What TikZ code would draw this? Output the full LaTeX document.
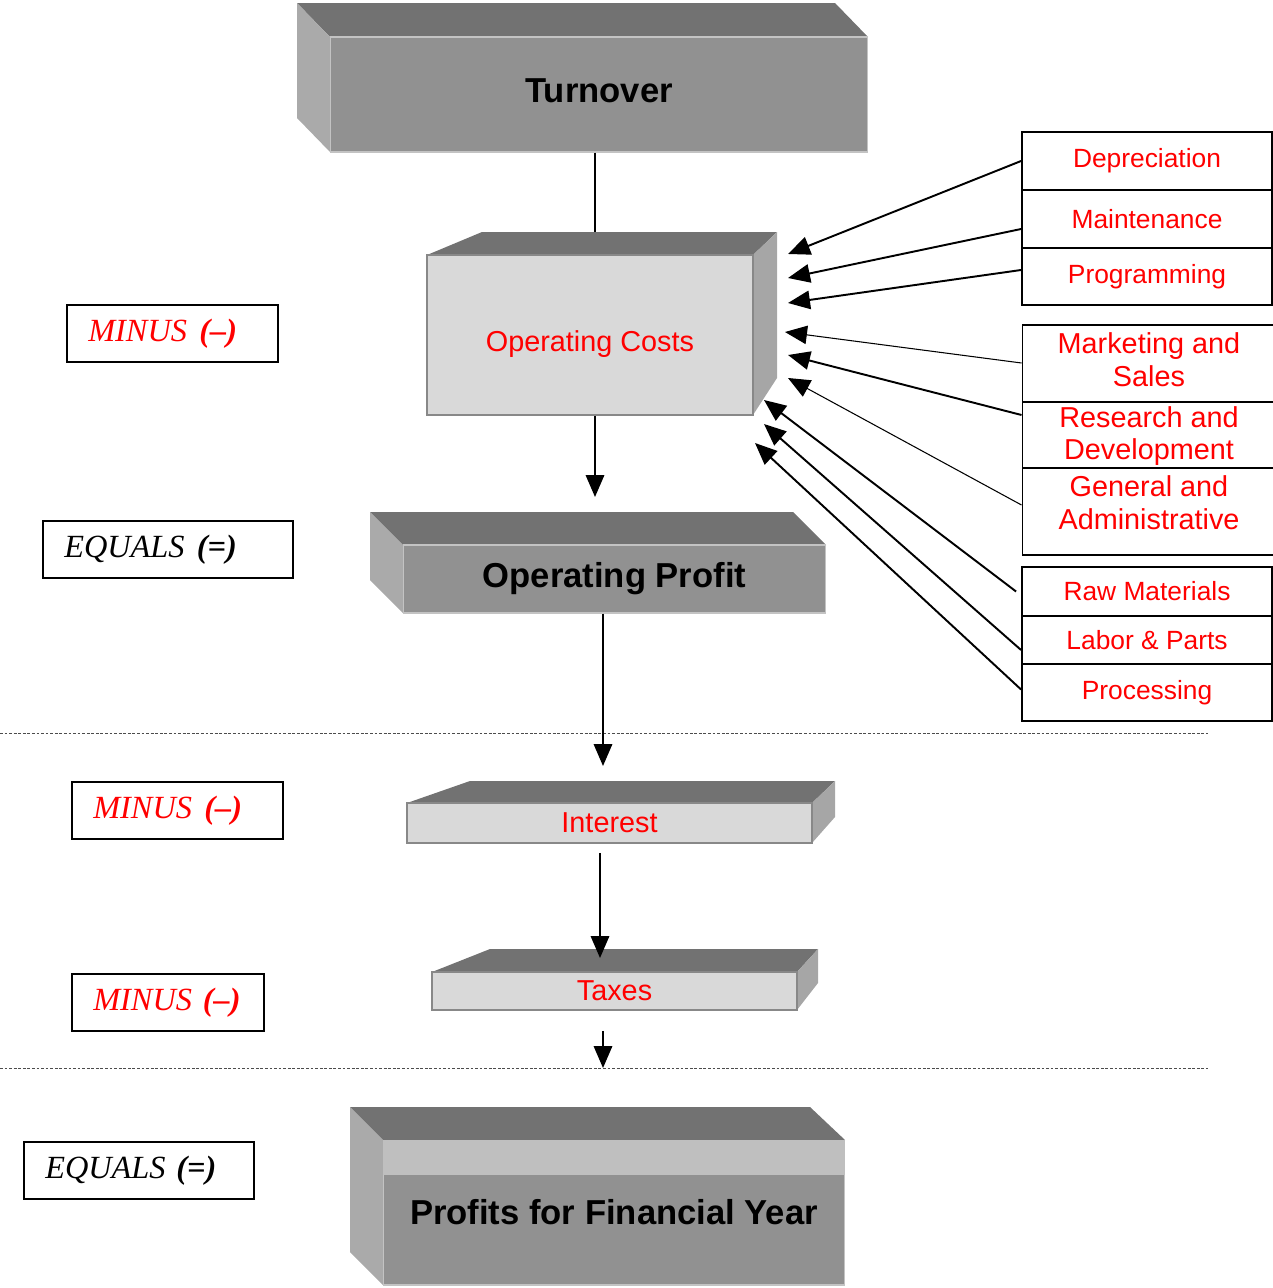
\documentclass[tikz,border=0pt]{standalone}
\usepackage{fontspec}
\setmainfont{Liberation Sans}
\newfontfamily\opfont{Liberation Serif}
\usetikzlibrary{arrows.meta,calc}

\definecolor{topgray}{HTML}{727272}
\definecolor{midgray}{HTML}{919191}
\definecolor{sidegray}{HTML}{AAAAAA}
\definecolor{lightface}{HTML}{D9D9D9}
\definecolor{rightside}{HTML}{A6A6A6}
\definecolor{bandgray}{HTML}{BFBFBF}
\definecolor{edgegray}{HTML}{888888}

\begin{document}
\begin{tikzpicture}[x=0.02cm,y=-0.02cm,
  topface/.style={fill=topgray},
  sideface/.style={fill=sidegray},
  rightface/.style={fill=rightside},
  darkfront/.style={fill=midgray, draw=edgegray!50, line width=0.6pt, inner sep=0pt,
    font=\bfseries\fontsize{19.7}{23}\selectfont},
  lightfront/.style={fill=lightface, draw=edgegray, line width=0.9pt, inner sep=0pt,
    text=red, font=\fontsize{16.4}{19}\selectfont},
  cellbox/.style={draw, line width=1.1pt, minimum width=5cm, inner sep=0pt,
    text=red, font=\fontsize{15}{18}\selectfont},
  thincell/.style={draw, line width=0.6pt, minimum width=5.08cm, inner sep=0pt},
  celltext/.style={text=red, align=center, inner sep=0pt,
    font=\fontsize{16.4}{18.7}\selectfont},
  opbox/.style={draw, line width=1.1pt, minimum height=1.14cm, minimum width=#1,
    text width={#1-0.5cm}, inner xsep=0.25cm, align=left,
    font=\opfont\itshape\fontsize{18.4}{21}\selectfont},
  link/.style={line width=1.1pt},
  thinlink/.style={line width=0.6pt},
  tip/.style={-{Triangle[length=12.5pt,width=10.5pt]}},
  separator/.style={line width=0.5pt, draw=black!70, dash pattern=on 1.6pt off 1pt}
]
\useasboundingbox (0,0) rectangle (1273,1288);

% ---- Turnover block
\fill[topface] (297,3) -- (835,3) -- (868,37) -- (330,37) -- cycle;
\fill[sideface] (297,3) -- (330,37) -- (330,152) -- (297,118) -- cycle;
\node[darkfront, minimum width=10.76cm, minimum height=2.3cm] (turnover) at (599,94.5) {};
\node[font=\bfseries\fontsize{19.7}{23}\selectfont, inner sep=0pt] (turnover-text) at (599,91) {Turnover};

% ---- Operating costs block
\fill[topface] (427,255) -- (482,232) -- (777,232) -- (753,255) -- cycle;
\fill[rightface] (753,255) -- (777,232) -- (777,378) -- (753,415) -- cycle;
\node[lightfront, minimum width=6.52cm, minimum height=3.2cm] (opcost) at (590,335) {};
\node[text=red, font=\fontsize{16.4}{19}\selectfont, inner sep=0pt] (opcost-text) at (590,344) {Operating Costs};

% ---- Operating profit block
\fill[topface] (370,512) -- (793,512) -- (826,545) -- (403,545) -- cycle;
\fill[sideface] (370,512) -- (403,545) -- (403,613) -- (370,580) -- cycle;
\node[darkfront, minimum width=8.46cm, minimum height=1.36cm] (opprofit) at (614.5,579) {Operating Profit};

% ---- Interest block
\fill[topface] (407,803) -- (470,781) -- (835,781) -- (812,803) -- cycle;
\fill[rightface] (812,803) -- (835,781) -- (835,817) -- (812,843) -- cycle;
\node[lightfront, minimum width=8.1cm, minimum height=0.8cm] (interest) at (609.5,823) {Interest};

% ---- Taxes block
\fill[topface] (432,972) -- (490,949) -- (818,949) -- (797,972) -- cycle;
\fill[rightface] (797,972) -- (818,949) -- (818,983) -- (797,1010) -- cycle;
\node[lightfront, minimum width=7.3cm, minimum height=0.76cm] (taxes) at (614.5,991) {Taxes};

% ---- Profits block
\fill[topface] (350,1107) -- (810,1107) -- (845,1140) -- (383,1140) -- cycle;
\fill[sideface] (350,1107) -- (383,1140) -- (383,1285) -- (350,1252) -- cycle;
\node[darkfront, minimum width=9.24cm, minimum height=2.9cm] (profits) at (614,1212.5) {Profits for Financial Year};
\fill[bandgray] (383,1140) rectangle (845,1175);

% ---- Operator labels
\node[opbox=4.22cm, text=red] (minus1) at (172.5,333.5) {\hspace{5pt}MINUS\hspace{7pt}\textbf{(\textendash)}};
\node[opbox=5cm] (equals1) at (168,549.5) {\hspace{5pt}EQUALS\hspace{7pt}\textbf{(=)}};
\node[opbox=4.22cm, text=red] (minus2) at (177.5,810.5) {\hspace{5pt}MINUS\hspace{7pt}\textbf{(\textendash)}};
\node[opbox=3.84cm, text=red] (minus3) at (168,1002.5) {\hspace{5pt}MINUS \textbf{(\textendash)}};
\node[opbox=4.6cm] (equals2) at (139,1170.5) {\hspace{5pt}EQUALS \textbf{(=)}};

% ---- Section separators
\draw[separator] (0,733) -- (1208,733);
\draw[separator] (0,1068) -- (1208,1068);

% ---- Cost items, first group
\node[cellbox, minimum height=1.16cm] (dep) at (1147,161) {Depreciation};
\node[cellbox, minimum height=1.16cm] (maint) at (1147,219) {Maintenance};
\node[cellbox, minimum height=1.14cm] (prog) at (1147,276.5) {Programming};

% ---- Cost items, second group
\node[thincell, minimum height=1.54cm] (mkt) at (1149,363.5) {};
\node[thincell, minimum height=1.32cm] (rnd) at (1149,435) {};
\node[thincell, minimum height=1.74cm] (gna) at (1149,511.5) {};
\node[celltext] (mkt-text) at (1149,360) {Marketing and\\Sales};
\node[celltext] (rnd-text) at (1149,436) {Research and\\Development};
\node[celltext] (gna-text) at (1149,503) {General and\\Administrative};

% ---- Cost items, third group
\node[cellbox, minimum height=0.98cm] (raw) at (1147,591.5) {Raw Materials};
\node[cellbox, minimum height=0.96cm] (labor) at (1147,640) {Labor \& Parts};
\node[cellbox, minimum height=1.14cm] (proc) at (1147,692.5) {Processing};

% ---- Arrow tips at the cost block
\coordinate (a1) at (788,254);
\coordinate (a2) at (788,278);
\coordinate (a3) at (788,303);
\coordinate (a4) at (785,332);
\coordinate (a5) at (788,355);
\coordinate (a6) at (788,378);
\coordinate (a7) at (764,400);
\coordinate (a8) at (764,424);
\coordinate (a9) at (755,443);

\draw[link, tip] (dep.west) -- (a1);
\draw[link, tip] ($(maint.west)+(0,10)$) -- (a2);
\draw[link, tip] ($(prog.west)+(0,-6.5)$) -- (a3);
\draw[thinlink, tip] ($(mkt.west)+(0,-0.5)$) -- (a4);
\draw[link, tip] ($(rnd.west)+(0,-20)$) -- (a5);
\draw[thinlink, tip] ($(gna.west)+(0,-6.5)$) -- (a6);
\draw[link, tip] ($(raw.west)+(-5,0)$) -- (a7);
\draw[link, tip] ($(labor.west)+(0,10)$) -- (a8);
\draw[link, tip] ($(proc.west)+(0,-3)$) -- (a9);

% ---- Main flow
\coordinate (t1) at (595,232);
\coordinate (t2) at (595,497);
\coordinate (t3) at (603,766);
\coordinate (t4) at (600,958);
\coordinate (t5) at (603,1068);
\draw[link] (turnover.south -| t1) -- (t1);
\draw[link, tip] (opcost.south -| t2) -- (t2);
\draw[link, tip] (opprofit.south -| t3) -- (t3);
\draw[link, tip] ($(interest.south -| t4)+(0,9)$) -- (t4);
\draw[link, tip] ($(taxes.south -| t5)+(0,20)$) -- (t5);
\end{tikzpicture}
\end{document}
